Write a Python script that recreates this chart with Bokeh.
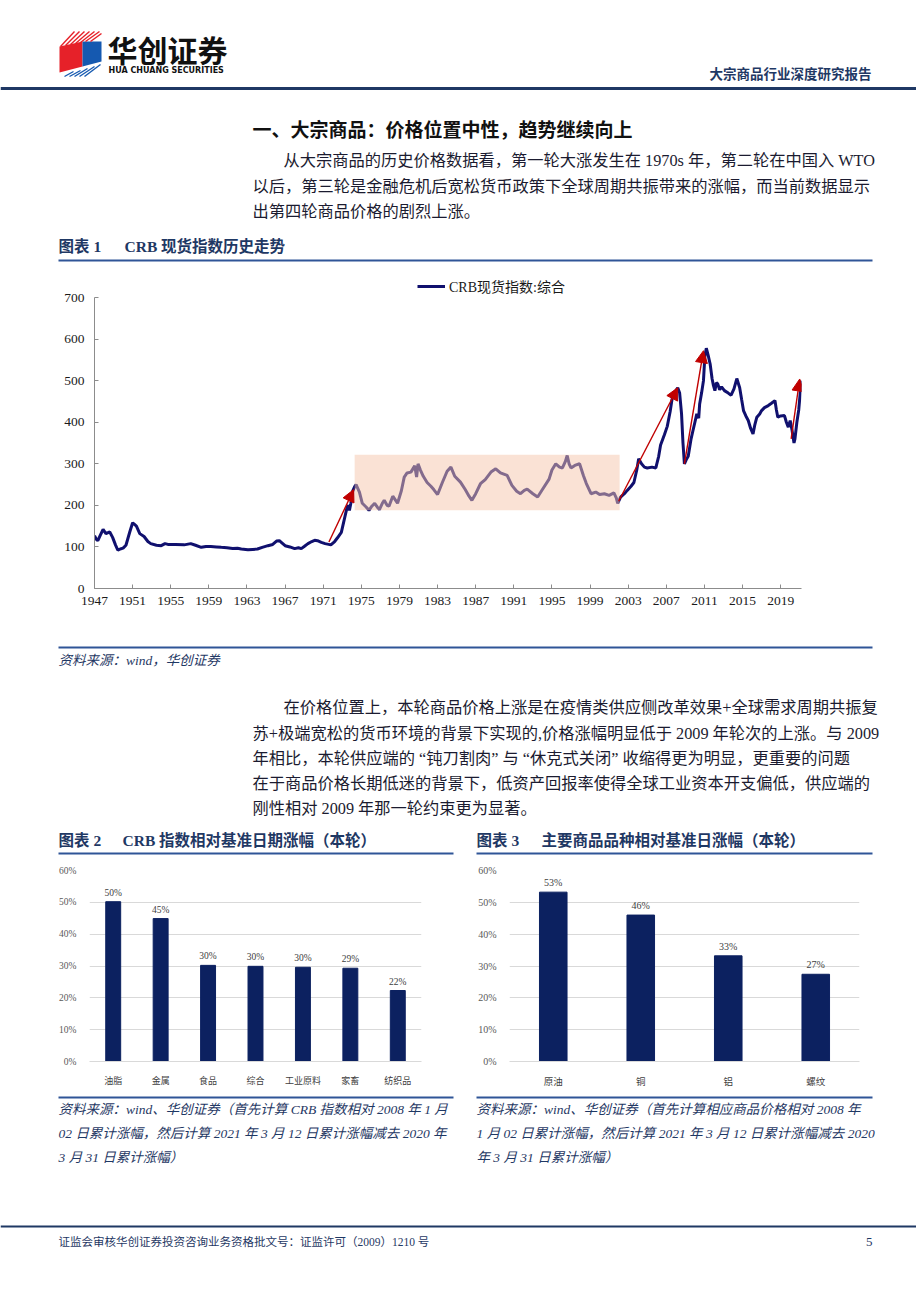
from bokeh.plotting import figure
from bokeh.layouts import column, row
from bokeh.models import (Range1d, FactorRange, FixedTicker, PrintfTickFormatter,
                          Legend, LegendItem, Arrow, NormalHead, ColumnDataSource)
from bokeh.core.properties import value
from bokeh.embed import file_html
from bokeh.resources import INLINE

# ------------------------------------------------------------------ data
CRB_YEAR = [1947.0, 1947.2, 1947.35, 1947.6, 1947.9, 1948.2, 1948.6, 1948.9, 1949.2, 1949.45,
            1949.7, 1950.0, 1950.3, 1950.7, 1951.0, 1951.2, 1951.4, 1951.75, 1952.2, 1952.6,
            1952.9, 1953.5, 1954.0, 1954.4, 1954.7, 1955.5, 1956.4, 1957.1, 1957.6, 1958.2,
            1958.7, 1959.2, 1959.8, 1960.3, 1960.9, 1961.5, 1962.0, 1962.4, 1963.1, 1963.6,
            1964.1, 1964.6, 1965.2, 1965.7, 1966.1, 1966.4, 1966.6, 1967.0, 1967.5, 1968.0,
            1968.4, 1968.7, 1969.0, 1969.4, 1969.8, 1970.1, 1970.4, 1970.8, 1971.2, 1971.8,
            1972.2, 1972.5, 1972.9, 1973.2, 1973.5, 1973.65, 1973.75, 1973.9, 1974.1, 1974.3,
            1974.45, 1974.8, 1975.1, 1975.5, 1975.8, 1976.1, 1976.4, 1976.7, 1976.9, 1977.2,
            1977.4, 1977.7, 1977.9, 1978.3, 1978.6, 1978.8, 1979.2, 1979.5, 1979.8, 1980.2,
            1980.6, 1980.8, 1980.95, 1981.2, 1981.5, 1981.9, 1982.3, 1982.6, 1983.0, 1983.5,
            1984.0, 1984.4, 1984.8, 1985.4, 1985.9, 1986.3, 1986.6, 1987.0, 1987.5, 1988.0,
            1988.6, 1989.1, 1989.6, 1990.3, 1990.8, 1991.3, 1991.7, 1992.1, 1992.4, 1993.0,
            1993.5, 1994.0, 1994.7, 1995.0, 1995.4, 1995.8, 1996.1, 1996.4, 1996.6, 1996.8,
            1997.0, 1997.4, 1997.9, 1998.3, 1998.6, 1999.1, 1999.6, 2000.0, 2000.5, 2001.0,
            2001.5, 2001.75, 2001.9, 2002.2, 2002.6, 2002.9, 2003.3, 2003.6, 2003.9, 2004.1,
            2004.4, 2004.7, 2005.0, 2005.5, 2005.9, 2006.2, 2006.4, 2006.8, 2007.1, 2007.4,
            2007.6, 2007.8, 2008.0, 2008.2, 2008.4, 2008.6, 2008.75, 2008.9, 2009.1, 2009.3,
            2009.6, 2009.8, 2010.0, 2010.2, 2010.4, 2010.5, 2010.7, 2010.9, 2011.05, 2011.2,
            2011.4, 2011.6, 2011.8, 2011.95, 2012.1, 2012.25, 2012.4, 2012.6, 2012.8, 2013.1,
            2013.5, 2013.8, 2014.1, 2014.4, 2014.7, 2014.9, 2015.1, 2015.35, 2015.6, 2015.85,
            2016.1, 2016.3, 2016.5, 2016.8, 2017.0, 2017.3, 2017.7, 2018.0, 2018.4, 2018.55,
            2018.7, 2019.0, 2019.4, 2019.6, 2019.8, 2020.0, 2020.2, 2020.4, 2020.5, 2020.7,
            2020.9, 2021.05, 2021.2]
CRB_VALUE = [127, 118, 115, 128, 142, 132, 136, 123, 105, 92,
             95, 97, 104, 136, 158, 154, 150, 132, 125, 113,
             108, 104, 103, 108, 106, 106, 105, 108, 104, 99,
             101, 101, 100, 99, 98, 96, 97, 95, 93, 94,
             95, 99, 103, 106, 114, 115, 111, 103, 100, 96,
             98, 96, 101, 108, 113, 116, 115, 111, 108, 105,
             113, 122, 135, 165, 195, 200, 188, 205, 235, 245,
             250, 232, 205, 196, 188, 198, 205, 195, 190, 205,
             212, 200, 198, 222, 212, 205, 235, 268, 278, 280,
             295, 268, 300, 285, 270, 255, 246, 238, 226, 255,
             282, 292, 270, 256, 238, 222, 212, 228, 252, 262,
             280, 288, 278, 272, 248, 234, 228, 236, 239, 228,
             220, 238, 263, 285, 300, 292, 290, 305, 320, 300,
             290, 296, 300, 272, 253, 228, 232, 226, 228, 224,
             230, 218, 205, 220, 228, 236, 246, 255, 285, 312,
             300, 292, 290, 292, 290, 318, 345, 370, 390, 425,
             455, 470, 476, 483, 470, 420, 350, 300, 310, 318,
             360, 380, 400, 420, 410, 444, 470, 500, 560, 578,
             560, 540, 505, 488, 476, 495, 492, 478, 485, 476,
             470, 465, 480, 505, 483, 455, 428, 415, 404, 385,
             372, 395, 412, 420, 428, 435, 440, 445, 452, 430,
             412, 415, 416, 400, 388, 404, 380, 350, 360, 400,
             430, 470, 500]
X_TICKS = [1947, 1951, 1955, 1959, 1963, 1967, 1971, 1975, 1979, 1983, 1987,
           1991, 1995, 1999, 2003, 2007, 2011, 2015, 2019]
Y_TICKS = [0, 100, 200, 300, 400, 500, 600, 700]
SERIES_NAME = "CRB现货指数:综合"
SHADE_YEARS = [1974.3, 2002.1]
SHADE_VALUES = [188, 322]
ARROW_YEAR_FROM = [1971.6, 2002.0, 2008.9, 2020.1]
ARROW_VALUE_FROM = [112, 210, 300, 360]
ARROW_YEAR_TO = [1974.2, 2008.2, 2010.9, 2021.0]
ARROW_VALUE_TO = [238, 483, 572, 504]

CATS2 = ["油脂", "金属", "食品", "综合", "工业原料", "家畜", "纺织品"]
VALS2 = [50.2, 44.9, 30.2, 29.9, 29.6, 29.3, 22.3]
CATS3 = ["原油", "铜", "铝", "螺纹"]
VALS3 = [53.2, 46.0, 33.2, 27.4]
PCT_TICKS = [0, 10, 20, 30, 40, 50, 60]

HEADER_TITLE = "大宗商品行业深度研究报告"
SECTION_TITLE = "一、大宗商品：价格位置中性，趋势继续向上"
PARA1 = ["从大宗商品的历史价格数据看，第一轮大涨发生在 1970s 年，第二轮在中国入 WTO",
         "以后，第三轮是金融危机后宽松货币政策下全球周期共振带来的涨幅，而当前数据显示",
         "出第四轮商品价格的剧烈上涨。"]
PARA2 = ["在价格位置上，本轮商品价格上涨是在疫情类供应侧改革效果+全球需求周期共振复",
         "苏+极端宽松的货币环境的背景下实现的,价格涨幅明显低于 2009 年轮次的上涨。与 2009",
         "年相比，本轮供应端的 “钝刀割肉” 与 “休克式关闭” 收缩得更为明显，更重要的问题",
         "在于商品价格长期低迷的背景下，低资产回报率使得全球工业资本开支偏低，供应端的",
         "刚性相对 2009 年那一轮约束更为显著。"]
CAP1 = ["图表 1", "CRB 现货指数历史走势"]
CAP2 = ["图表 2", "CRB 指数相对基准日期涨幅（本轮）"]
CAP3 = ["图表 3", "主要商品品种相对基准日涨幅（本轮）"]
SRC1 = "资料来源：wind，华创证券"
SRC2 = ["资料来源：wind、华创证券（首先计算 CRB 指数相对 2008 年 1 月",
        "02 日累计涨幅，然后计算 2021 年 3 月 12 日累计涨幅减去 2020 年",
        "3 月 31 日累计涨幅）"]
SRC3 = ["资料来源：wind、华创证券（首先计算相应商品价格相对 2008 年",
        "1 月 02 日累计涨幅，然后计算 2021 年 3 月 12 日累计涨幅减去 2020",
        "年 3 月 31 日累计涨幅）"]
FOOTER = "证监会审核华创证券投资咨询业务资格批文号：证监许可（2009）1210 号"
PAGE_NO = "5"

# ------------------------------------------------------------------ styles
SERIF = "'Liberation Serif', 'Noto Sans CJK SC'"
CJK = "'Noto Sans CJK SC'"
NAVY = "#1f3864"
RULE = "#2f5597"
BODY = "#1b1b30"
LINE_NAVY = "#10106e"
BAR = "#0c2160"
PAGE_W = 916
BODY_SIZE = 16.25


def page_fig(y_top, y_bot):
    p = figure(width=PAGE_W, height=y_bot - y_top, x_range=Range1d(0, PAGE_W),
               y_range=Range1d(y_bot, y_top), x_axis_type=None, y_axis_type=None,
               toolbar_location=None, output_backend="svg", min_border=0,
               min_border_left=0, min_border_right=0, min_border_top=0, min_border_bottom=0,
               outline_line_color=None)
    return p


def txt(p, x, y, s, size, color=BODY, font=SERIF, style="normal", align="left"):
    p.text(x=[x], y=[y], text=[s], text_font=value(font), text_font_size=f"{size}px",
           text_font_style=style, text_color=color, text_align=align,
           text_baseline="middle")


def rule(p, x0, x1, y, w=2, color=RULE):
    p.segment(x0=[x0], y0=[y], x1=[x1], y1=[y], line_color=color, line_width=w)


# ------------------------------------------------------------------ section A (top)
pa = page_fig(0, 272)
# logo: red and blue faces with striped bands
pa.patch([59, 82, 82, 59], [46, 41, 66, 72], fill_color="#e62129", line_color=None)
pa.patch([82, 101, 101, 82], [41, 41, 61, 66], fill_color="#1559b0", line_color=None)
pa.segment(x0=[60, 65, 70, 75, 80, 85, 90], y0=[46, 45, 44, 43, 42, 41, 41],
           x1=[74, 79, 84, 89, 94, 99, 101], y1=[31, 31, 31, 31, 31, 31, 33],
           line_color="#e62129", line_width=1.4)
pa.segment(x0=[64, 69, 74, 79, 84], y0=[76, 76, 76, 76, 76],
           x1=[73, 80, 87, 94, 100], y1=[71, 70, 68, 66, 64],
           line_color="#1559b0", line_width=1.4)
txt(pa, 107, 48, "华创证券", 30, color="#111111", font=CJK, style="bold")
txt(pa, 108, 70, "HUA CHUANG SECURITIES", 8, color="#111111", font="DejaVu Sans", style="bold")
txt(pa, 871, 72, HEADER_TITLE, 13.5, color=NAVY, font=CJK, style="bold", align="right")
rule(pa, 0, PAGE_W, 88, w=3, color=NAVY)
txt(pa, 252, 128, SECTION_TITLE, 19, color="#111111", font=CJK, style="bold")
txt(pa, 283, 160, PARA1[0], BODY_SIZE)
txt(pa, 252, 186, PARA1[1], BODY_SIZE)
txt(pa, 252, 211, PARA1[2], BODY_SIZE)
txt(pa, 58, 246, CAP1[0], 15.5, color=NAVY, style="bold")
txt(pa, 124, 246, CAP1[1], 15.5, color=NAVY, style="bold")
rule(pa, 58, 872, 260, w=2)

# ------------------------------------------------------------------ section B (chart 1)
X_END = 1947 + 707 / 9.53
Y_END = 316 * 700 / 291
p1 = figure(width=PAGE_W, height=368, x_range=Range1d(1947, X_END), y_range=Range1d(0, Y_END),
            toolbar_location=None, output_backend="svg", min_border_left=94,
            min_border_right=PAGE_W - 94 - 707, min_border_top=0, min_border_bottom=52,
            outline_line_color=None)
p1.grid.visible = False
r = p1.line(CRB_YEAR, CRB_VALUE, line_color=LINE_NAVY, line_width=3)
p1.quad(left=[SHADE_YEARS[0]], right=[SHADE_YEARS[1]], bottom=[SHADE_VALUES[0]],
        top=[SHADE_VALUES[1]], fill_color="#f5c5ab", fill_alpha=0.5, line_color=None)
asrc = ColumnDataSource(dict(x0=ARROW_YEAR_FROM, y0=ARROW_VALUE_FROM,
                             x1=ARROW_YEAR_TO, y1=ARROW_VALUE_TO))
p1.add_layout(Arrow(x_start="x0", y_start="y0", x_end="x1", y_end="y1", source=asrc,
                    line_color="#c00000", line_width=1.4,
                    end=NormalHead(size=12, fill_color="#c00000", line_color="#c00000")))
for ax in (p1.xaxis[0], p1.yaxis[0]):
    ax.axis_line_color = "#8c8c8c"
    ax.major_tick_line_color = "#8c8c8c"
    ax.major_tick_in = 4
    ax.major_tick_out = 0
    ax.minor_tick_line_color = None
    ax.major_label_text_font = SERIF
    ax.major_label_text_font_size = "13.5px"
    ax.major_label_text_color = "#1a1a1a"
p1.xaxis.ticker = FixedTicker(ticks=X_TICKS)
p1.yaxis.ticker = FixedTicker(ticks=Y_TICKS)
p1.xaxis.bounds = (1947, X_END)
p1.yaxis.bounds = (0, 700)
p1.xaxis.major_label_standoff = 8
p1.yaxis.major_label_standoff = 10
leg = Legend(items=[LegendItem(label=SERIES_NAME, renderers=[r])], location=(323, 292),
             padding=0, margin=0, border_line_color=None, background_fill_alpha=0,
             glyph_width=28, glyph_height=14, label_standoff=4, label_height=16,
             label_text_font=SERIF, label_text_font_size="14px", label_text_color="#1a1a1a")
p1.add_layout(leg)

# ------------------------------------------------------------------ section C (middle)
pc = page_fig(640, 856)
rule(pc, 58, 872, 647, w=2)
txt(pc, 58, 660, SRC1, 13.5, color=NAVY, style="italic")
for i, s in enumerate(PARA2):
    txt(pc, 283 if i == 0 else 252, [707, 733, 758, 783, 808][i], s, BODY_SIZE)
txt(pc, 58, 840, CAP2[0], 15.5, color=NAVY, style="bold")
txt(pc, 122, 840, CAP2[1], 15.5, color=NAVY, style="bold")
txt(pc, 476, 840, CAP3[0], 15.5, color=NAVY, style="bold")
txt(pc, 541, 840, CAP3[1], 15.5, color=NAVY, style="bold")
rule(pc, 58, 453, 853, w=2)
rule(pc, 476, 872, 853, w=2)


# ------------------------------------------------------------------ section D (bar charts)
def bar_chart(cats, vals, width, left, right, top, bottom, cat_size, lab_size):
    p = figure(width=width, height=234, x_range=FactorRange(*cats), y_range=Range1d(0, 60),
               toolbar_location=None, output_backend="svg", min_border_left=left,
               min_border_right=right, min_border_top=top, min_border_bottom=bottom,
               outline_line_color=None)
    p.vbar(x=cats, top=vals, width=0.315, fill_color=BAR, line_color=BAR)
    p.text(x=cats, y=vals, text=[f"{round(v)}%" for v in vals], text_align="center",
           text_baseline="bottom", y_offset=-4, text_font=value(SERIF),
           text_font_size=f"{lab_size}px", text_color="#404040")
    p.xgrid.visible = False
    p.ygrid.ticker = FixedTicker(ticks=PCT_TICKS)
    p.ygrid.grid_line_color = "#d9d9d9"
    p.yaxis.ticker = FixedTicker(ticks=PCT_TICKS)
    p.yaxis.formatter = PrintfTickFormatter(format="%d%%")
    p.yaxis.axis_line_color = None
    p.yaxis.major_tick_line_color = None
    p.yaxis.minor_tick_line_color = None
    p.yaxis.major_label_standoff = 7
    p.yaxis.major_label_text_font = SERIF
    p.yaxis.major_label_text_font_size = f"{lab_size}px"
    p.yaxis.major_label_text_color = "#595959"
    p.xaxis.axis_line_color = "#d9d9d9"
    p.xaxis.major_tick_line_color = None
    p.xaxis.major_label_standoff = 6
    p.xaxis.major_label_text_font = CJK
    p.xaxis.major_label_text_font_size = f"{cat_size}px"
    p.xaxis.major_label_text_color = "#404040"
    return p


p2 = bar_chart(CATS2, VALS2, 466, 89, 45, 14, 26, 9, 9.5)
p3 = bar_chart(CATS3, VALS3, PAGE_W - 466, 43, PAGE_W - 466 - 43 - 350, 11, 24, 9.5, 10)

# ------------------------------------------------------------------ section E (bottom)
pe = page_fig(1090, 1300)
rule(pe, 58, 453, 1097, w=2)
rule(pe, 476, 872, 1097, w=2)
for i, s in enumerate(SRC2):
    txt(pe, 58, [1109, 1133, 1157][i], s, 13.5, color=NAVY, style="italic")
for i, s in enumerate(SRC3):
    txt(pe, 476, [1109, 1133, 1157][i], s, 13.5, color=NAVY, style="italic")
rule(pe, 0, PAGE_W, 1226, w=2, color=NAVY)
txt(pe, 58, 1241, FOOTER, 11.5, color=NAVY)
txt(pe, 872, 1241, PAGE_NO, 13, color=NAVY, align="right")

layout = column(row(pa), row(p1), row(pc), row(p2, p3, spacing=0), row(pe), spacing=0)
open("out.html", "w").write(file_html(layout, INLINE))
